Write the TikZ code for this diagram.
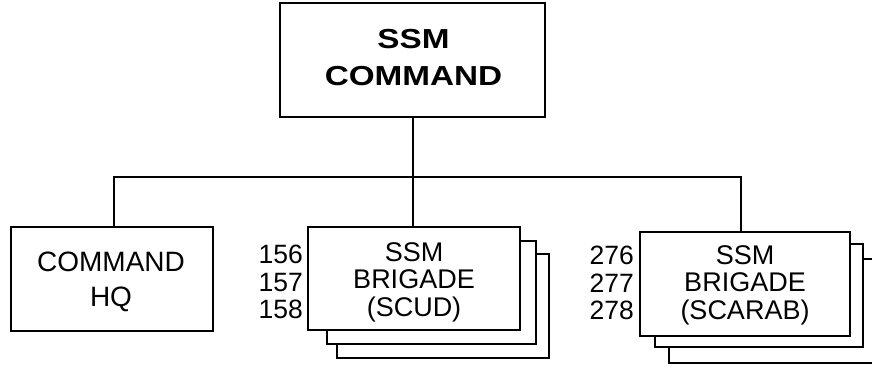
\documentclass[tikz,border=0pt]{standalone}
\usepackage{fontspec}
\setmainfont{Liberation Sans}
\newfontfamily\widebold[FakeStretch=1.21]{Liberation Sans Bold}
\begin{document}
\begin{tikzpicture}[x=1pt,y=-1pt,
  box/.style={draw,line width=1.4pt,fill=white,inner sep=0pt,align=center},
  txt/.style={inner sep=0pt,align=center},
  conn/.style={line width=1.4pt},
  nums/.style={anchor=east,align=right,inner sep=0pt,font=\fontsize{26.5}{27.5}\selectfont}]
\useasboundingbox (0,0) rectangle (872,365);
\clip (0,0) rectangle (872,365);
% top
\node[box,minimum width=265pt,minimum height=114pt] (top) at (412.5,60) {};
\node[txt,font=\widebold\fontsize{27.5}{37}\selectfont] (topt) at (413.5,57.5) {SSM\\COMMAND};
% command HQ
\node[box,minimum width=202pt,minimum height=104pt] (hq) at (112,279) {};
\node[txt,font=\fontsize{28}{35}\selectfont] (hqt) at (111,281.5) {COMMAND\\HQ};
% SCUD stack
\node[box,minimum width=212pt,minimum height=104pt] (scudc) at (443,306) {};
\node[box,minimum width=209pt,minimum height=103pt] (scudb) at (431.5,292.5) {};
\node[box,minimum width=212pt,minimum height=103pt] (scud) at (414,278.5) {};
\node[txt,font=\fontsize{27}{27.5}\selectfont] (scudt) at (414,282) {SSM\\BRIGADE\\(SCUD)};
\node[nums] (scudn) at (303,282) {156\\157\\158};
% SCARAB stack
\node[box,minimum width=210pt,minimum height=104pt] (scarabc) at (774,311) {};
\node[box,minimum width=208pt,minimum height=103pt] (scarabb) at (759,295.5) {};
\node[box,minimum width=210pt,minimum height=104pt] (scarab) at (745,284) {};
\node[txt,font=\fontsize{27}{27.5}\selectfont] (scarabt) at (745,285) {SSM\\BRIGADE\\(SCARAB)};
\node[nums] (scarabn) at (634,283) {276\\277\\278};
% connectors
\coordinate (bl) at (114,177);
\coordinate (bm) at (413,177);
\coordinate (br) at (741,177);
\draw[conn] (top.south -| bm) -- (scud.north -| bm);
\draw[conn] (hq.north -| bl) -- (bl) -- (br) -- (scarab.north -| br);
\end{tikzpicture}
\end{document}
